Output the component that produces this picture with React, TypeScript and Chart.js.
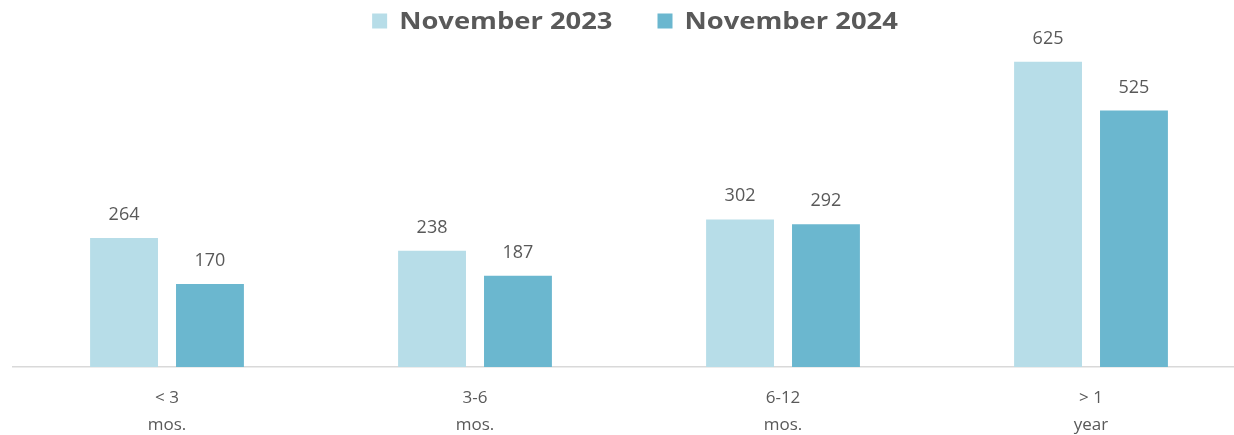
import React, { useEffect, useRef } from "react";
import { Chart, registerables } from "chart.js";

Chart.register(...registerables);

const categories: string[][] = [["< 3", "mos."], ["3-6", "mos."], ["6-12", "mos."], ["> 1", "year"]];
const seriesNames = ["November 2023", "November 2024"];
const values2023 = [264, 238, 302, 625];
const values2024 = [170, 187, 292, 525];
const colors = ["#b7dde8", "#6bb7cf"];
const textColor = "#595959";
const fontFamily = "'Open Sans', Lato, sans-serif";

const valueLabels = {
  id: "valueLabels",
  afterDatasetsDraw(chart: any) {
    const ctx = chart.ctx;
    ctx.save();
    ctx.fillStyle = textColor;
    ctx.font = `18px ${fontFamily}`;
    ctx.textAlign = "center";
    ctx.textBaseline = "alphabetic";
    chart.data.datasets.forEach((ds: any, i: number) => {
      const meta = chart.getDatasetMeta(i);
      meta.data.forEach((bar: any, j: number) => {
        ctx.fillText(String(ds.data[j]), bar.x, bar.y - 18);
      });
    });
    ctx.restore();
  },
};

const customLegend = {
  id: "customLegend",
  afterDraw(chart: any) {
    const ctx = chart.ctx;
    ctx.save();
    ctx.font = `bold 24px ${fontFamily}`;
    ctx.textBaseline = "middle";
    const stretch = 1.14;
    const box = 15;
    const gapBoxText = 12;
    const gapItems = 45;
    const items = chart.data.datasets.map((ds: any) => ({
      label: ds.label,
      color: ds.backgroundColor,
      w: ctx.measureText(ds.label).width * stretch,
    }));
    let total = 0;
    items.forEach((it: any, i: number) => {
      total += box + gapBoxText + it.w + (i < items.length - 1 ? gapItems : 0);
    });
    let x = 635 - total / 2;
    const cy = 21;
    items.forEach((it: any) => {
      ctx.fillStyle = it.color;
      ctx.fillRect(x, cy - box / 2, box, box);
      x += box + gapBoxText;
      ctx.fillStyle = textColor;
      ctx.save();
      ctx.translate(x, cy + 1);
      ctx.scale(stretch, 1);
      ctx.fillText(it.label, 0, 0);
      ctx.restore();
      x += it.w + gapItems;
    });
    ctx.restore();
  },
};

export default function App() {
  const ref = useRef<HTMLCanvasElement>(null);
  useEffect(() => {
    if (!ref.current) return;
    const chart = new Chart(ref.current, {
      type: "bar",
      data: {
        labels: categories,
        datasets: [
          { label: seriesNames[0], data: values2023, backgroundColor: colors[0], categoryPercentage: 0.558, barPercentage: 0.79 },
          { label: seriesNames[1], data: values2024, backgroundColor: colors[1], categoryPercentage: 0.558, barPercentage: 0.79 },
        ],
      },
      options: {
        animation: false,
        responsive: false,
        maintainAspectRatio: false,
        layout: { padding: { top: 25, left: 13, right: 5, bottom: 0 } },
        plugins: { legend: { display: false }, tooltip: { enabled: false } },
        scales: {
          x: {
            grid: { display: false, drawTicks: false },
            border: { display: true, color: "#d9d9d9", width: 1.5 },
            ticks: { color: textColor, font: { family: fontFamily, size: 17, lineHeight: 1.59 }, padding: 18, maxRotation: 0 },
            afterFit: (scale: any) => { scale.height = 68; },
          },
          y: { display: false, min: 0, max: 700 },
        },
      },
      plugins: [valueLabels, customLegend],
    });
    return () => chart.destroy();
  }, []);
  return (
    <div style={{ position: "absolute", left: 0, top: 0, width: 1234, height: 435, overflow: "hidden", background: "#fff" }}>
      <canvas ref={ref} width={1250} height={435} style={{ display: "block" }} />
    </div>
  );
}
